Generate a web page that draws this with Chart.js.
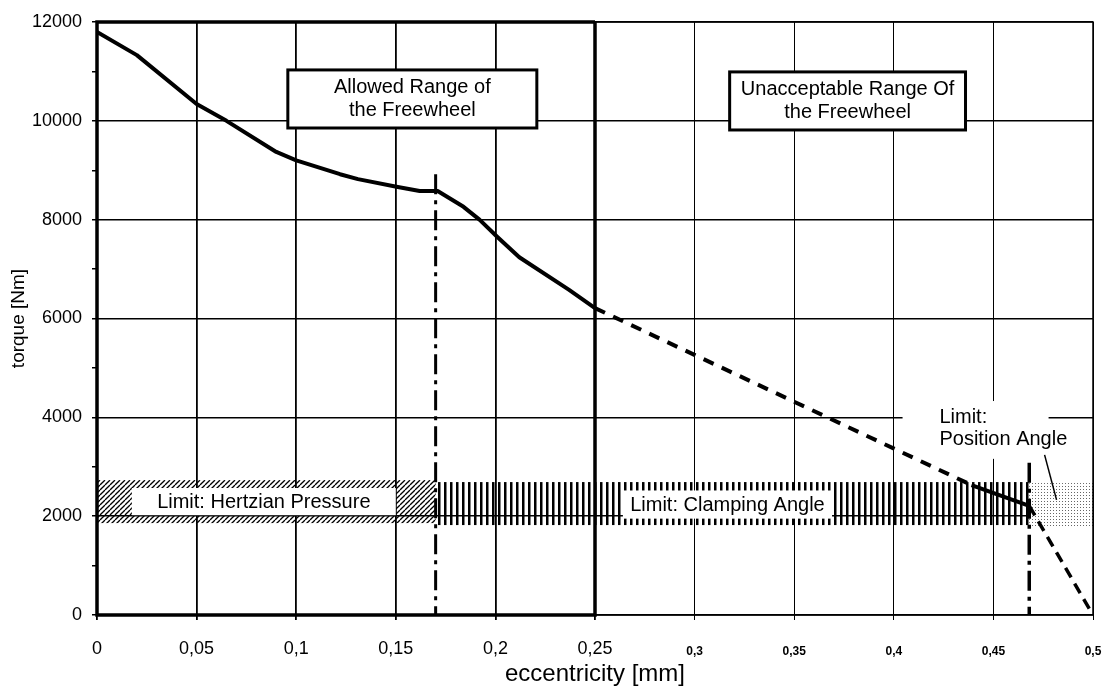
<!DOCTYPE html>
<html>
<head>
<meta charset="utf-8">
<script src="https://cdn.jsdelivr.net/npm/chart.js@4.4.1/dist/chart.umd.min.js"></script>
<style>
  body { margin: 0; background: #fff; }
  #wrap { width: 1109px; height: 689px; }
</style>
</head>
<body>
<div id="wrap"><canvas id="torqueChart"></canvas></div>
<script>
// torque over eccentricity of the freewheel

// axes
const xTicks = [0, 0.05, 0.1, 0.15, 0.2, 0.25, 0.3, 0.35, 0.4, 0.45, 0.5];
const xTickLabels = ["0", "0,05", "0,1", "0,15", "0,2", "0,25", "0,3", "0,35", "0,4", "0,45", "0,5"];
const yTicks = [0, 1000, 2000, 3000, 4000, 5000, 6000, 7000, 8000, 9000, 10000, 11000, 12000];
const yTickLabels = ["0", "", "2000", "", "4000", "", "6000", "", "8000", "", "10000", "", "12000"];

// measured torque curve (allowed range)
const curveX = [0, 0.02, 0.05, 0.065, 0.09, 0.1, 0.122, 0.131, 0.151, 0.162, 0.171, 0.184, 0.192, 0.201, 0.212, 0.237, 0.25];
const curveY = [11800, 11330, 10340, 10000, 9370, 9200, 8920, 8820, 8660, 8580, 8580, 8260, 8000, 7650, 7240, 6580, 6210];

// extrapolation beyond 0.25 mm
const extX = [0.25, 0.439];
const extY = [6210, 2630];
const clampX = [0.439, 0.468];
const clampY = [2630, 2210];
const dropX = [0.468, 0.5];
const dropY = [2210, 0];

// vertical limit markers
const hertzLimitX = [0.17, 0.17];
const hertzLimitY = [8920, 0];
const positionLimitX = [0.468, 0.468];
const positionLimitY = [3080, 0];

// limit bands
const bandKinds = ["hatch", "stripes", "dots"];
const bandFrom = [0, 0.17, 0.468];
const bandTo = [0.17, 0.468, 0.5];
const bandLow = [1860, 1820, 1780];
const bandHigh = [2730, 2690, 2670];
const bandLabels = ["Limit: Hertzian Pressure", "Limit: Clamping Angle"];
const bandLabelFrom = [0.0175, 0.264];
const bandLabelTo = [0.15, 0.369];
const bandLabelLow = [2020, 1950];
const bandLabelHigh = [2570, 2520];

// framed notes
const noteLines = [["Allowed Range of", "the Freewheel"], ["Unacceptable Range Of", "the Freewheel"]];
const noteFrom = [0.0958, 0.3176];
const noteTo = [0.2208, 0.436];
const noteHigh = [11030, 10990];
const noteLow = [9855, 9815];

// position angle note
const posLines = ["Limit:", "Position Angle"];
const posTextX = 0.4229;
const posTextY = [4000, 3560];
const posBox = [0.4044, 0.4777, 3160, 4330];
const pointerX = [0.4757, 0.4817];
const pointerY = [3240, 2330];

const FONT = "'Liberation Sans', Arial, sans-serif";

function toPoints(xs, ys) {
  return xs.map((x, i) => ({ x: x, y: ys[i] }));
}

function makePattern(ctx, kind) {
  const c = document.createElement("canvas");
  const p = c.getContext("2d");
  if (kind === "hatch") {
    c.width = 5; c.height = 5;
    p.strokeStyle = "#000";
    p.lineWidth = 1.3;
    for (let i = -1; i <= 1; i++) {
      p.beginPath();
      p.moveTo(i * 5, 5);
      p.lineTo(i * 5 + 5, 0);
      p.stroke();
    }
  } else if (kind === "stripes") {
    c.width = 6; c.height = 2;
    p.fillStyle = "#000";
    p.fillRect(0, 0, 2.5, 2);
  } else {
    c.width = 3; c.height = 3;
    p.fillStyle = "#fff";
    p.fillRect(0, 0, 3, 3);
    p.fillStyle = "#666";
    p.fillRect(0, 0, 1, 1);
  }
  return ctx.createPattern(c, "repeat");
}

const backgroundPlugin = {
  id: "backgroundPlugin",
  beforeDatasetsDraw(chart) {
    const ctx = chart.ctx;
    const xs = chart.scales.x, ys = chart.scales.y;
    ctx.save();
    // limit bands
    bandKinds.forEach((kind, i) => {
      const x0 = xs.getPixelForValue(bandFrom[i]), x1 = xs.getPixelForValue(bandTo[i]);
      const y0 = ys.getPixelForValue(bandHigh[i]), y1 = ys.getPixelForValue(bandLow[i]);
      ctx.fillStyle = makePattern(ctx, kind);
      ctx.fillRect(x0, y0, x1 - x0, y1 - y0);
    });
    // band labels
    ctx.font = "20px " + FONT;
    ctx.textAlign = "center";
    ctx.textBaseline = "middle";
    bandLabels.forEach((txt, i) => {
      const x0 = xs.getPixelForValue(bandLabelFrom[i]), x1 = xs.getPixelForValue(bandLabelTo[i]);
      const y0 = ys.getPixelForValue(bandLabelHigh[i]), y1 = ys.getPixelForValue(bandLabelLow[i]);
      ctx.fillStyle = "#fff";
      ctx.fillRect(x0, y0, x1 - x0, y1 - y0);
      ctx.fillStyle = "#000";
      ctx.fillText(txt, (x0 + x1) / 2, (y0 + y1) / 2 + 1);
    });
    // framed notes
    noteLines.forEach((lines, i) => {
      const x0 = xs.getPixelForValue(noteFrom[i]), x1 = xs.getPixelForValue(noteTo[i]);
      const y0 = ys.getPixelForValue(noteHigh[i]), y1 = ys.getPixelForValue(noteLow[i]);
      ctx.fillStyle = "#fff";
      ctx.fillRect(x0, y0, x1 - x0, y1 - y0);
      ctx.strokeStyle = "#000";
      ctx.lineWidth = 3;
      ctx.strokeRect(x0, y0, x1 - x0, y1 - y0);
      ctx.fillStyle = "#000";
      const cy = (y0 + y1) / 2;
      ctx.fillText(lines[0], (x0 + x1) / 2, cy - 11);
      ctx.fillText(lines[1], (x0 + x1) / 2, cy + 12);
    });
    // position angle note
    const bx0 = xs.getPixelForValue(posBox[0]), bx1 = xs.getPixelForValue(posBox[1]);
    const by0 = ys.getPixelForValue(posBox[3]), by1 = ys.getPixelForValue(posBox[2]);
    ctx.fillStyle = "#fff";
    ctx.fillRect(bx0, by0, bx1 - bx0, by1 - by0);
    ctx.fillStyle = "#000";
    ctx.textAlign = "left";
    posLines.forEach((txt, i) => {
      ctx.fillText(txt, xs.getPixelForValue(posTextX), ys.getPixelForValue(posTextY[i]));
    });
    ctx.strokeStyle = "#000";
    ctx.lineWidth = 1.5;
    ctx.beginPath();
    ctx.moveTo(xs.getPixelForValue(pointerX[0]), ys.getPixelForValue(pointerY[0]));
    ctx.lineTo(xs.getPixelForValue(pointerX[1]), ys.getPixelForValue(pointerY[1]));
    ctx.stroke();
    ctx.restore();
  },
  afterDatasetsDraw(chart) {
    // frame: heavy around the allowed range, light elsewhere
    const ctx = chart.ctx;
    const xs = chart.scales.x, ys = chart.scales.y;
    const l = xs.getPixelForValue(0), m = xs.getPixelForValue(0.25), r = xs.getPixelForValue(0.5);
    const t = ys.getPixelForValue(12000), b = ys.getPixelForValue(0);
    ctx.save();
    ctx.strokeStyle = "#000";
    ctx.lineWidth = 1.5;
    ctx.beginPath();
    ctx.moveTo(m, t); ctx.lineTo(r, t); ctx.lineTo(r, b); ctx.lineTo(m, b);
    ctx.stroke();
    ctx.lineWidth = 3.5;
    ctx.beginPath();
    ctx.moveTo(m, t); ctx.lineTo(l, t); ctx.lineTo(l, b); ctx.lineTo(m, b); ctx.lineTo(m, t);
    ctx.stroke();
    ctx.restore();
  }
};

const config = {
  type: "scatter",
  data: {
    datasets: [
      { data: toPoints(curveX, curveY), borderWidth: 4 },
      { data: toPoints(extX, extY), borderWidth: 4, borderDash: [11, 9] },
      { data: toPoints(clampX, clampY), borderWidth: 4 },
      { data: toPoints(dropX, dropY), borderWidth: 3.5, borderDash: [11, 7] },
      { data: toPoints(hertzLimitX, hertzLimitY), borderWidth: 3, borderDash: [20, 6, 4, 6] },
      { data: toPoints(positionLimitX, positionLimitY), borderWidth: 3.5, borderDash: [20, 6, 4, 6] }
    ].map(ds => Object.assign({
      showLine: true,
      borderColor: "#000",
      pointRadius: 0,
      fill: false,
      tension: 0,
      borderCapStyle: "butt",
      borderJoinStyle: "round"
    }, ds))
  },
  options: {
    responsive: true,
    maintainAspectRatio: false,
    animation: false,
    layout: { padding: { top: 22, right: 16, left: 0, bottom: 0 } },
    plugins: {
      legend: { display: false },
      tooltip: { enabled: false }
    },
    scales: {
      x: {
        type: "linear",
        min: 0,
        max: 0.5,
        afterBuildTicks: (s) => { s.ticks = xTicks.map(v => ({ value: v })); },
        afterFit: (s) => { s.height = 74; s.paddingLeft = 0; s.paddingRight = 0; },
        border: { display: false },
        grid: {
          color: "#000",
          tickColor: "#000",
          tickLength: 5,
          lineWidth: (c) => (c.tick && c.tick.value > 0.26 ? 1 : 1.8)
        },
        ticks: {
          color: "#000",
          padding: 18,
          maxRotation: 0,
          autoSkip: false,
          callback: (v, i) => xTickLabels[i],
          font: (c) => (c.index < 6
            ? { family: FONT, size: 18 }
            : { family: FONT, size: 12, weight: "bold", lineHeight: 2.2 })
        },
        title: {
          display: true,
          text: "eccentricity [mm]",
          color: "#000",
          font: { family: FONT, size: 24 },
          padding: { top: 0, bottom: 0 }
        }
      },
      y: {
        min: 0,
        max: 12000,
        afterBuildTicks: (s) => { s.ticks = yTicks.map(v => ({ value: v })); },
        afterFit: (s) => { s.width = 97; },
        border: { display: false },
        grid: {
          color: (c) => (c.tick && c.tick.value % 2000 === 0 ? "#000" : "rgba(0,0,0,0)"),
          tickColor: "#000",
          tickLength: 5,
          lineWidth: 1.5
        },
        ticks: {
          color: "#000",
          padding: 10,
          autoSkip: false,
          callback: (v, i) => yTickLabels[i],
          font: { family: FONT, size: 18 }
        },
        title: {
          display: true,
          text: "torque [Nm]",
          color: "#000",
          font: { family: FONT, size: 19 },
          padding: { top: 7, bottom: 0 }
        }
      }
    }
  },
  plugins: [backgroundPlugin]
};

const torqueChart = new Chart(document.getElementById("torqueChart"), config);
</script>
</body>
</html>
